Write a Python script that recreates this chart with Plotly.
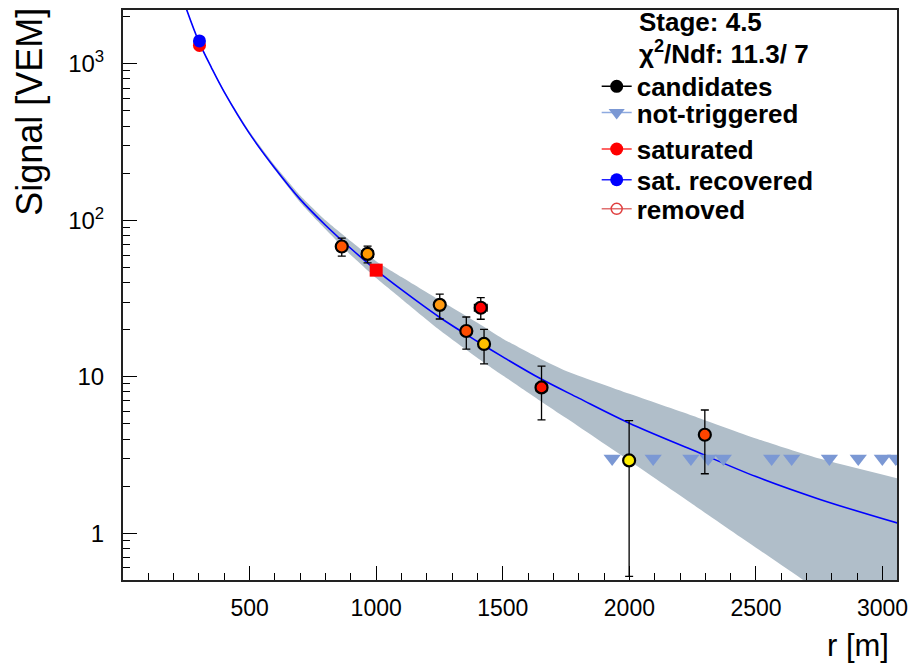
import plotly.graph_objects as go

# ---------------- data ----------------
# candidate stations
cand_r = [864, 966, 1251, 1356, 1413, 1426, 1653, 1999, 2298]
cand_s = [68.0, 61.0, 28.8, 19.6, 27.6, 16.2, 8.55, 2.92, 4.26]
cand_err_up = [9.0, 7.3, 4.9, 4.5, 4.4, 3.9, 3.15, 2.33, 1.87]
cand_err_dn = [9.0, 7.5, 5.4, 4.6, 4.3, 4.1, 3.25, 2.39, 1.86]
cand_err_r = [0, 22, 0, 0, 25, 0, 22, 0, 0]
cand_colors = ["#ff5500", "#ff9900", "#ff9a10", "#ff4d00", "#ff0000",
               "#ffc000", "#ff1400", "#ffee00", "#ff4400"]

# not-triggered stations
nt_r = [1932, 2094, 2243, 2311, 2371, 2562, 2641, 2790, 2904, 2999, 3052]
nt_s = [3.0, 3.0, 3.0, 3.0, 3.0, 3.0, 3.0, 3.0, 3.0, 3.0, 3.0]

# saturated / recovered station
sat_r = [302]
sat_s = [1310.0]
rec_r = [302]
rec_s = [1400.0]

# reference point S(1000)
ref_r = [1000]
ref_s = [48.0]

# fitted LDF
fit_r = [250, 300, 350, 400, 500, 600, 700, 800, 900, 1000, 1100, 1250,
         1400, 1500, 1650, 1800, 2000, 2250, 2500, 2750, 3060]
fit_s = [2250, 1380, 940, 660, 358, 215, 136, 93, 66, 48, 36, 24,
         16.8, 13.4, 9.7, 7.3, 5.05, 3.40, 2.30, 1.65, 1.16]

# uncertainty band
band_r = [250, 300, 400, 500, 600, 700, 800, 900, 1000, 1100, 1250, 1400,
          1500, 1650, 1750, 2000, 2250, 2500, 2750, 3060]
band_up = [2274, 1391, 673, 369, 224, 144, 100, 73.4, 54.8, 43.4, 30.9, 22.1,
           17.5, 13.0, 10.9, 7.79, 5.64, 4.03, 3.00, 2.24]
band_lo = [2224, 1361, 654, 353, 210, 130, 87.6, 59.9, 42.7, 31.4, 19.9, 13.2,
           10.2, 6.98, 5.44, 2.90, 1.53, 0.808, 0.427, 0.194]

# axis ticks
x_ticks = [500, 1000, 1500, 2000, 2500, 3000]
y_ticks = [1, 10, 100, 1000]
y_tick_text = ["1", "10", "10<sup>2</sup>", "10<sup>3</sup>"]
y_minor = [0.6, 0.7, 0.8, 0.9, 2, 3, 4, 5, 6, 7, 8, 9,
           20, 30, 40, 50, 60, 70, 80, 90,
           200, 300, 400, 500, 600, 700, 800, 900, 2000]

# legend entries
leg_names = ["candidates", "not-triggered", "saturated", "sat. recovered", "removed"]

FONT = "Liberation Sans, Arial, Helvetica, sans-serif"
BAND = "rgb(176,190,201)"
NT_COL = "#7b98d4"

fig = go.Figure()

# band
fig.add_trace(go.Scatter(x=band_r, y=band_lo, mode="lines", line=dict(width=0, color=BAND),
                         showlegend=False, hoverinfo="skip", line_shape="spline",
                         line_smoothing=0.5))
fig.add_trace(go.Scatter(x=band_r, y=band_up, mode="lines", line=dict(width=0, color=BAND),
                         fill="tonexty", fillcolor=BAND, showlegend=False,
                         hoverinfo="skip", line_shape="spline", line_smoothing=0.5))
# fit
fig.add_trace(go.Scatter(x=fit_r, y=fit_s, mode="lines", line=dict(color="#0000ff", width=1.6),
                         line_shape="spline", showlegend=False))
# not triggered
fig.add_trace(go.Scatter(x=nt_r, y=nt_s, mode="markers",
                         marker=dict(symbol="triangle-down", size=15, color=NT_COL),
                         showlegend=False))
# reference square
fig.add_trace(go.Scatter(x=ref_r, y=ref_s, mode="markers",
                         marker=dict(symbol="square", size=13, color="#ff0000"),
                         showlegend=False))
# saturated & recovered
fig.add_trace(go.Scatter(x=sat_r, y=sat_s, mode="markers",
                         marker=dict(symbol="circle", size=13, color="#ff0000"),
                         showlegend=False))
fig.add_trace(go.Scatter(x=rec_r, y=rec_s, mode="markers",
                         marker=dict(symbol="circle", size=13, color="#0000ff"),
                         showlegend=False))
# candidates
fig.add_trace(go.Scatter(
    x=cand_r, y=cand_s, mode="markers",
    marker=dict(symbol="circle", size=12, color=cand_colors,
                line=dict(color="black", width=2.2)),
    error_y=dict(type="data", symmetric=False, array=cand_err_up, arrayminus=cand_err_dn,
                 color="black", thickness=1.3, width=4),
    error_x=dict(type="data", array=cand_err_r, color="black", thickness=1.3, width=4),
    showlegend=False))

# legend entries (each in its own legend box so the spacing matches)
leg_styles = [
    dict(line=dict(color="black", width=1.5),
         marker=dict(symbol="circle", size=13, color="black")),
    dict(line=dict(color="#8eaae0", width=1.5),
         marker=dict(symbol="triangle-down", size=14, color=NT_COL)),
    dict(line=dict(color="#ff3030", width=1.5),
         marker=dict(symbol="circle", size=13, color="#ff0000")),
    dict(line=dict(color="#2020ff", width=1.5),
         marker=dict(symbol="circle", size=13, color="#0000ff")),
    dict(line=dict(color="#e07070", width=1.5),
         marker=dict(symbol="circle-open", size=11, color="#e04040", line=dict(width=1.5))),
]
leg_ids = ["legend", "legend2", "legend3", "legend4", "legend5"]
leg_y = [0.866, 0.820, 0.756, 0.702, 0.651]
for name, lid, st in zip(leg_names, leg_ids, leg_styles):
    fig.add_trace(go.Scatter(x=[None], y=[None], mode="lines+markers", name=name,
                             legend=lid, **st))

legend_common = dict(x=0.612, xanchor="left", yanchor="middle",
                     bgcolor="rgba(0,0,0,0)", borderwidth=0,
                     font=dict(family=FONT, size=26, color="black", weight="bold"),
                     itemsizing="trace", tracegroupgap=0)

fig.update_layout(
    width=918, height=669,
    margin=dict(l=123, r=21, t=8, b=89),
    paper_bgcolor="white", plot_bgcolor="white",
    font=dict(family=FONT, color="black"),
    showlegend=True,
    legend=dict(y=leg_y[0], **legend_common),
    legend2=dict(y=leg_y[1], **legend_common),
    legend3=dict(y=leg_y[2], **legend_common),
    legend4=dict(y=leg_y[3], **legend_common),
    legend5=dict(y=leg_y[4], **legend_common),
    xaxis=dict(type="linear", range=[0, 3057], showgrid=False, zeroline=False,
               showline=True, linecolor="#222", linewidth=2, mirror=True,
               ticks="inside", ticklen=14, tickwidth=1, tickcolor="black",
               tickmode="array", tickvals=x_ticks,
               tickfont=dict(family=FONT, size=23, color="black"),
               ticklabelstandoff=6,
               minor=dict(ticks="inside", ticklen=7, dtick=100, tick0=0,
                          tickcolor="black", showgrid=False)),
    yaxis=dict(type="log", range=[-0.299, 3.344], showgrid=False, zeroline=False,
               showline=True, linecolor="#222", linewidth=2, mirror=True,
               ticks="inside", ticklen=14, tickwidth=1, tickcolor="black",
               tickmode="array", tickvals=y_ticks, ticktext=y_tick_text,
               tickfont=dict(family=FONT, size=24, color="black"),
               ticklabelstandoff=12,
               minor=dict(ticks="inside", ticklen=7, tickmode="array", tickvals=y_minor,
                          tickcolor="black", showgrid=False)),
    annotations=[
        dict(text="Signal [VEM]", xref="paper", yref="paper", x=-0.121, y=0.822,
             textangle=-90, showarrow=False, xanchor="center", yanchor="middle",
             font=dict(family=FONT, size=36, color="black")),
        dict(text="r [m]", xref="paper", yref="paper", x=0.992, y=-0.115,
             showarrow=False, xanchor="right", yanchor="middle",
             font=dict(family=FONT, size=31, color="black")),
        dict(text="<b>Stage: 4.5</b>", xref="paper", yref="paper", x=0.664, y=0.979,
             showarrow=False, xanchor="left", yanchor="middle",
             font=dict(family=FONT, size=26, color="black")),
        dict(text="<b>χ<sup>2</sup>/Ndf: 11.3/ 7</b>", xref="paper", yref="paper",
             x=0.664, y=0.926, showarrow=False, xanchor="left", yanchor="middle",
             font=dict(family=FONT, size=26, color="black")),
    ],
)

fig.write_html("out.html")
